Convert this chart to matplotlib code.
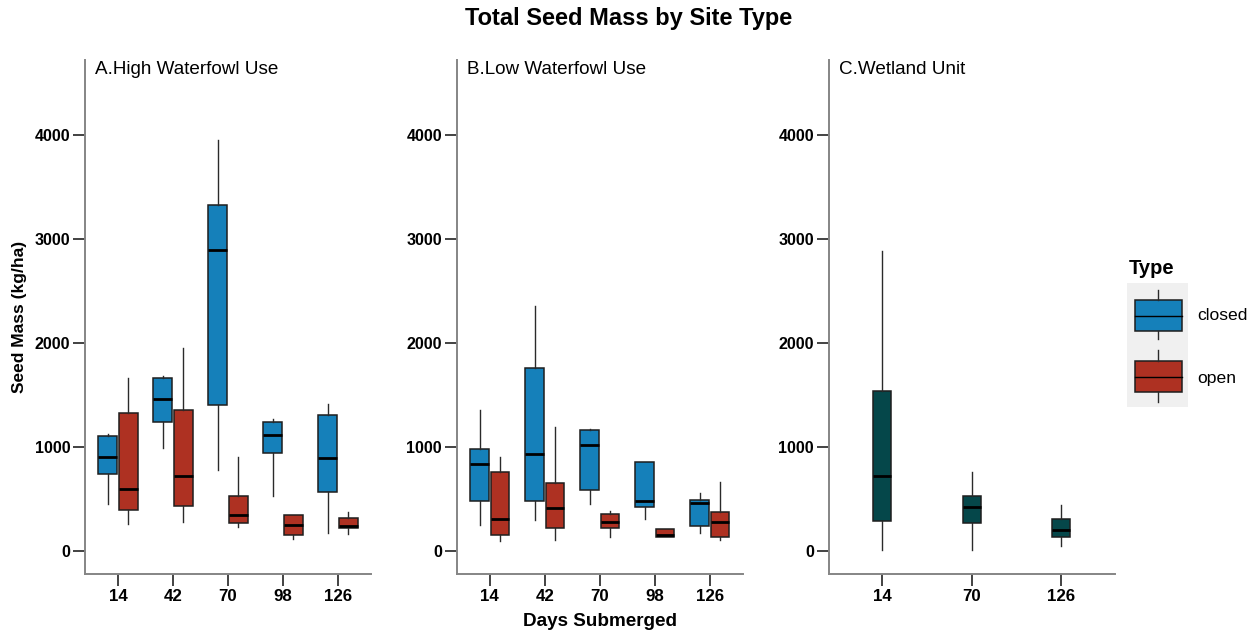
import matplotlib
matplotlib.use("Agg")
import matplotlib.pyplot as plt
from matplotlib.patches import Rectangle

plt.rcParams['font.family'] = ['Liberation Sans', 'DejaVu Sans']

# ---------------- data ----------------
days_ab = ["14", "42", "70", "98", "126"]
days_c = ["14", "70", "126"]
types = ["closed", "open"]

# Panel A: High Waterfowl Use  (whislo, q1, median, q3, whishi)
a_closed_lo = [446, 985, 776, 523, 167]
a_closed_q1 = [741, 1238, 1405, 937, 561]
a_closed_med = [898, 1457, 2897, 1113, 892]
a_closed_q3 = [1100, 1662, 3330, 1238, 1303]
a_closed_hi = [1123, 1678, 3953, 1264, 1415]

a_open_lo = [260, 273, 225, 112, 157]
a_open_q1 = [388, 427, 263, 151, 215]
a_open_med = [594, 719, 343, 250, 237]
a_open_q3 = [1328, 1351, 529, 340, 314]
a_open_hi = [1665, 1954, 905, 340, 372]

# Panel B: Low Waterfowl Use
b_closed_lo = [251, 299, 447, 305, 174]
b_closed_q1 = [476, 476, 582, 418, 238]
b_closed_med = [839, 929, 1013, 479, 463]
b_closed_q3 = [977, 1762, 1158, 852, 486]
b_closed_hi = [1357, 2354, 1174, 852, 556]

b_open_lo = [93, 103, 132, 129, 103]
b_open_q1 = [148, 222, 215, 129, 135]
b_open_med = [305, 415, 273, 154, 273]
b_open_q3 = [756, 650, 357, 209, 373]
b_open_hi = [900, 1193, 383, 209, 659]

# Panel C: Wetland Unit
c_lo = [10, 10, 42]
c_q1 = [286, 267, 129]
c_med = [720, 418, 196]
c_q3 = [1534, 531, 302]
c_hi = [2887, 759, 437]

yticks = [0, 1000, 2000, 3000, 4000]

# ---------------- style ----------------
W, H = 1257, 637
C_CLOSED = "#1580BA"
C_OPEN = "#AE3122"
C_WET = "#05474A"
EDGE = "#1e1e1e"
SPINE = "#858585"


def stats(lo, q1, med, q3, hi):
    return [dict(whislo=a, q1=b, med=c, q3=d, whishi=e, fliers=[])
            for a, b, c, d, e in zip(lo, q1, med, q3, hi)]


def draw(ax, st, positions, width, color):
    ax.bxp(st, positions=positions, widths=width, patch_artist=True,
           showcaps=False, showfliers=False,
           boxprops=dict(facecolor=color, edgecolor=EDGE, linewidth=1.1),
           medianprops=dict(color="black", linewidth=2.0),
           whiskerprops=dict(color="#2a2a2a", linewidth=1.0))


def style(ax, labels, title):
    n = len(labels)
    ax.set_xlim(-0.6, n - 1 + 0.6)
    ax.set_ylim(-224, 4722)
    ax.set_xticks(range(n))
    ax.set_xticklabels(labels, fontsize=12.2, fontweight="bold")
    ax.set_yticks(yticks)
    ax.set_yticklabels([str(v) for v in yticks], fontsize=11.6, fontweight="bold")
    for s in ("top", "right"):
        ax.spines[s].set_visible(False)
    for s in ("left", "bottom"):
        ax.spines[s].set_color(SPINE)
        ax.spines[s].set_linewidth(1.4)
    ax.tick_params(axis="both", length=8.5, width=1.2, color="#222222", pad=2)
    ax.text(10 / 286, 1 - 10 / 514, title, transform=ax.transAxes,
            fontsize=13.6, va="center", ha="left")


fig = plt.figure(figsize=(W / 100, H / 100), dpi=100)


def axes_px(left, right, top, bottom):
    return fig.add_axes([left / W, 1 - bottom / H, (right - left) / W, (bottom - top) / H])


axA = axes_px(85, 371, 60, 574)
axB = axes_px(456.7, 742.7, 60, 574)
axC = axes_px(828.7, 1114.7, 60, 574)

off, wd = 0.185, 0.34
posAB = list(range(len(days_ab)))
draw(axA, stats(a_closed_lo, a_closed_q1, a_closed_med, a_closed_q3, a_closed_hi),
     [p - off for p in posAB], wd, C_CLOSED)
draw(axA, stats(a_open_lo, a_open_q1, a_open_med, a_open_q3, a_open_hi),
     [p + off for p in posAB], wd, C_OPEN)
draw(axB, stats(b_closed_lo, b_closed_q1, b_closed_med, b_closed_q3, b_closed_hi),
     [p - off for p in posAB], wd, C_CLOSED)
draw(axB, stats(b_open_lo, b_open_q1, b_open_med, b_open_q3, b_open_hi),
     [p + off for p in posAB], wd, C_OPEN)
draw(axC, stats(c_lo, c_q1, c_med, c_q3, c_hi), list(range(len(days_c))), 0.205, C_WET)

style(axA, days_ab, "A.High Waterfowl Use")
style(axB, days_ab, "B.Low Waterfowl Use")
style(axC, days_c, "C.Wetland Unit")

# titles and labels
fig.text(629 / W, 1 - 18 / H, "Total Seed Mass by Site Type", ha="center", va="center",
         fontsize=17, fontweight="bold")
fig.text(600 / W, 1 - 622 / H, "Days Submerged", ha="center", va="center",
         fontsize=13.6, fontweight="bold")
fig.text(20 / W, 1 - 317 / H, "Seed Mass (kg/ha)", ha="center", va="center",
         rotation=90, fontsize=12.5, fontweight="bold")

# legend
lg = axes_px(1126.7, 1188.3, 283, 406.7)
lg.set_xlim(1126.7, 1188.3)
lg.set_ylim(406.7, 283)
lg.set_facecolor("#F0F0F0")
for s in lg.spines.values():
    s.set_visible(False)
lg.set_xticks([])
lg.set_yticks([])
for (top, bot, med, wt, wb, col) in [(300, 330.7, 315.7, 290, 339, C_CLOSED),
                                      (361, 391.7, 377, 350, 401.7, C_OPEN)]:
    cx = (1135 + 1181.7) / 2
    lg.plot([cx, cx], [wt, top], color="#2a2a2a", lw=1.0)
    lg.plot([cx, cx], [bot, wb], color="#2a2a2a", lw=1.0)
    lg.add_patch(Rectangle((1135, top), 46.7, bot - top, facecolor=col,
                           edgecolor=EDGE, lw=1.1))
    lg.plot([1135, 1181.7], [med, med], color="black", lw=1.0)
fig.text(1129 / W, 1 - 268 / H, "Type", ha="left", va="center", fontsize=14.5, fontweight="bold")
fig.text(1197 / W, 1 - 316 / H, "closed", ha="left", va="center", fontsize=12.6)
fig.text(1197 / W, 1 - 378 / H, "open", ha="left", va="center", fontsize=12.6)

fig.savefig("out.png", dpi=100)
